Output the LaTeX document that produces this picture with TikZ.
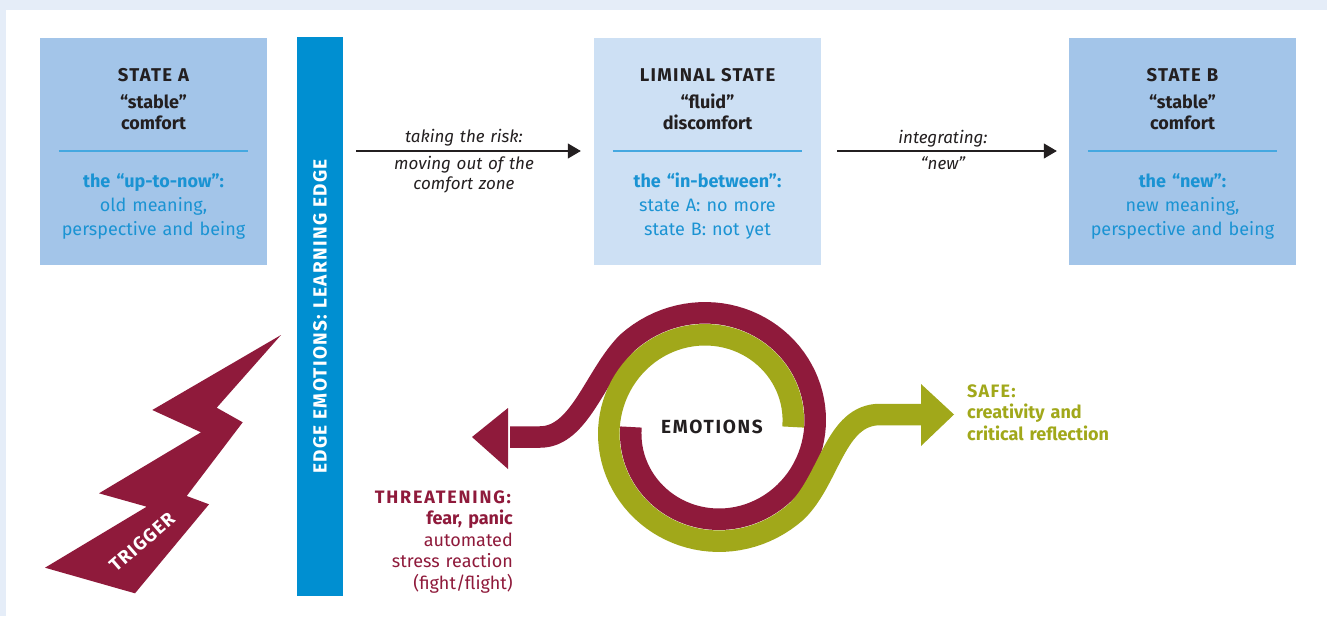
\documentclass[tikz,border=0pt]{standalone}
\usepackage{fontspec}
\setmainfont{Fira Sans}
\usetikzlibrary{arrows.meta}
\newcommand{\trk}{\addfontfeature{LetterSpace=7}}
\definecolor{bgband}{HTML}{E5EDF8}
\definecolor{boxblue}{HTML}{A3C5E9}
\definecolor{limblue}{HTML}{CDE0F4}
\definecolor{barblue}{HTML}{008FD1}
\definecolor{txtblue}{HTML}{1A93D3}
\definecolor{lineblue}{HTML}{45A8E0}
\definecolor{maroonc}{HTML}{8F1A3B}
\definecolor{olivec}{HTML}{A1A81A}
\definecolor{ink}{HTML}{231F20}
\begin{document}
\begin{tikzpicture}[x=1pt,y=-1pt,
  statebox/.style={minimum width=227pt,minimum height=227pt,inner sep=0pt,draw=none},
  headtxt/.style={text=ink,inner sep=0pt,anchor=base,text width=220pt,align=center,
     font=\fontsize{18}{21.5}\selectfont\bfseries},
  bodytxt/.style={text=txtblue,inner sep=0pt,anchor=base,text width=220pt,align=center,
     font=\fontsize{18}{24}\selectfont},
  seprule/.style={draw=lineblue,line width=1.3pt},
  flow/.style={draw=ink,line width=1.1pt,-{Triangle[length=13pt,width=15pt]}},
  flowtxt/.style={text=ink,inner sep=0pt,anchor=base,text width=220pt,align=center,
     font=\fontsize{17}{20}\selectfont\itshape},
  band/.style={line width=21.5pt,line join=round},
  sidetxt/.style={inner sep=0pt,font=\fontsize{18}{21.5}\selectfont}
]
\useasboundingbox (0,0) rectangle (1327,616);
\fill[bgband] (0,0) rectangle (1327,616);
\fill[white] (6,10) rectangle (1327,616);

% boxes
\node[statebox,fill=boxblue] (sa) at (153.5,151) {};
\node[statebox,fill=limblue] (lim) at (707.5,151) {};
\node[statebox,fill=boxblue] (sb) at (1182.5,151) {};
\node[fill=barblue,minimum width=46pt,minimum height=559pt,inner sep=0pt] (bar) at (320,316.5) {};

% separator rules
\draw[seprule] ([xshift=19pt]sa.west) -- ([xshift=-19pt]sa.east);
\draw[seprule] ([xshift=19pt]lim.west) -- ([xshift=-19pt]lim.east);
\draw[seprule] ([xshift=19pt]sb.west) -- ([xshift=-19pt]sb.east);

% texts in boxes
\node[headtxt] (sah) at (153.5,81.5) {{\fontsize{18.5}{21.5}\selectfont\trk STATE A}\\[5pt]“stable”\\comfort};
\node[bodytxt] (sab) at (153.5,187) {\textbf{the “up-to-now”:}\\old meaning,\\perspective and being};
\node[headtxt] (limh) at (707.5,81.5) {{\fontsize{18.5}{21.5}\selectfont\trk LIMINAL STATE}\\[5pt]“fluid”\\discomfort};
\node[bodytxt] (limb) at (707.5,187) {\textbf{the “in-between”:}\\state A: no more\\state B: not yet};
\node[headtxt] (sbh) at (1182.5,81.5) {{\fontsize{18.5}{21.5}\selectfont\trk STATE B}\\[5pt]“stable”\\comfort};
\node[bodytxt] (sbb) at (1182.5,187) {\textbf{the “new”:}\\new meaning,\\perspective and being};

% arrows between states
\draw[flow,shorten <=13pt,shorten >=13pt] (bar.east |- lim.west) -- (lim.west);
\draw[flow,shorten <=16pt,shorten >=12pt] (lim.east) -- (sb.west);
\node[flowtxt] (f1a) at (464,142.5) {taking the risk:};
\node[flowtxt] (f1b) at (464,169) {moving out of the\\comfort zone};
\node[flowtxt] (f2a) at (943,143) {integrating:};
\node[flowtxt] (f2b) at (943,169) {“new”};

% edge bar text
\node[rotate=90,text=white,inner sep=0pt,font=\fontsize{19}{21}\selectfont\bfseries\trk] (edgetxt) at (bar.center) {EDGE EMOTIONS: LEARNING EDGE};

% trigger lightning
\fill[maroonc] (281,335) -- (216.7,407.7) -- (242.7,422.3) -- (186.7,496) -- (209,504.3)
  -- (135,593.3) -- (45,567.7) -- (146.7,506.7) -- (99,493.3) -- (201,432.3)
  -- (152.3,410) -- cycle;
\node[rotate=41,text=white,inner sep=0pt,font=\fontsize{18.5}{20}\selectfont\bfseries\trk] (trig) at (142,542) {TRIGGER};

% emotions spirals
\draw[band,maroonc] plot[domain=180:495,samples=90] ({712+(81+11*(\x-180)/90)*cos(\x)},{427-(81+11*(\x-180)/90)*sin(\x)})
   .. controls (595,375) and (580,437) .. (540,437) -- (510,437);
\fill[maroonc] (508,408) -- (472,437) -- (508,469) -- cycle;
\draw[band,olivec] plot[domain=0:315,samples=90] ({712+(81+11*\x/90)*cos(\x)},{427-(81+11*\x/90)*sin(\x)})
   .. controls (830,479) and (835,414.5) .. (880,414.5) -- (923,414.5);
\fill[olivec] (921,384) -- (954,414.5) -- (921,446) -- cycle;
\node[text=ink,inner sep=0pt,font=\fontsize{19}{21}\selectfont\bfseries\addfontfeature{LetterSpace=9}] (emo) at (712,427) {EMOTIONS};

% side texts
\node[sidetxt,text=maroonc,anchor=base east,text width=200pt,align=right] (thr) at (513,503)
  {\textbf{\addfontfeature{LetterSpace=10}THREATENING:}\\\textbf{fear, panic}\\automated\\stress reaction\\(fight/flight)};
\node[sidetxt,text=olivec,anchor=base west,text width=200pt,align=left] (safe) at (967,397)
  {\textbf{\trk SAFE:}\\\textbf{creativity and}\\\textbf{critical reflection}};
\end{tikzpicture}
\end{document}
